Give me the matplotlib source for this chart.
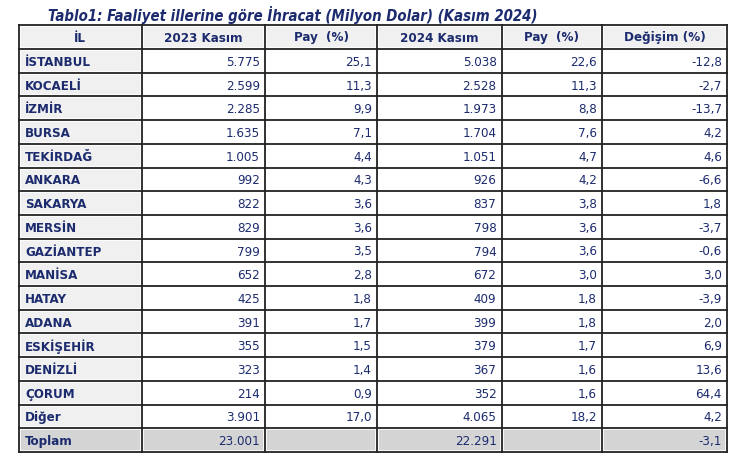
import matplotlib
matplotlib.use("Agg")
import matplotlib.pyplot as plt
from matplotlib.patches import Rectangle

title = "Tablo1: Faaliyet illerine göre İhracat (Milyon Dolar) (Kasım 2024)"
headers = ["İL", "2023 Kasım", "Pay  (%)", "2024 Kasım", "Pay  (%)", "Değişim (%)"]

iller = ["İSTANBUL", "KOCAELİ", "İZMİR", "BURSA", "TEKİRDAĞ", "ANKARA", "SAKARYA",
         "MERSİN", "GAZİANTEP", "MANİSA", "HATAY", "ADANA", "ESKİŞEHİR", "DENİZLİ",
         "ÇORUM", "Diğer", "Toplam"]
kasim_2023 = [5775, 2599, 2285, 1635, 1005, 992, 822, 829, 799, 652, 425, 391, 355,
              323, 214, 3901, 23001]
pay_2023 = [25.1, 11.3, 9.9, 7.1, 4.4, 4.3, 3.6, 3.6, 3.5, 2.8, 1.8, 1.7, 1.5, 1.4,
            0.9, 17.0, None]
kasim_2024 = [5038, 2528, 1973, 1704, 1051, 926, 837, 798, 794, 672, 409, 399, 379,
              367, 352, 4065, 22291]
pay_2024 = [22.6, 11.3, 8.8, 7.6, 4.7, 4.2, 3.8, 3.6, 3.6, 3.0, 1.8, 1.8, 1.7, 1.6,
            1.6, 18.2, None]
degisim = [-12.8, -2.7, -13.7, 4.2, 4.6, -6.6, 1.8, -3.7, -0.6, 3.0, -3.9, 2.0, 6.9,
           13.6, 64.4, 4.2, -3.1]


def fmt_int(v):
    return f"{v:,}".replace(",", ".")


def fmt_dec(v):
    if v is None:
        return ""
    return f"{v:.1f}".replace(".", ",")


plt.rcParams["font.stretch"] = "condensed"

navy = "#1c2b6e"
W, H = 747, 475
fig = plt.figure(figsize=(W / 100, H / 100), dpi=100)
ax = fig.add_axes([0, 0, 1, 1])
ax.set_xlim(0, W)
ax.set_ylim(H, 0)
ax.axis("off")

col_x = [19, 141.5, 265, 377, 501.5, 602, 727]
top = 25
head_h = 24
row_h = (452 - 49) / len(iller)

ax.text(48, 15, title, color=navy, fontsize=10.7, fontweight="bold",
        fontstyle="italic", va="center", ha="left")


def cell(x0, x1, y0, y1, fc):
    ax.add_patch(Rectangle((x0, y0), x1 - x0, y1 - y0, facecolor=fc,
                           edgecolor="white", lw=1.2, zorder=1))


# header row
for j, h in enumerate(headers):
    cell(col_x[j] + 1, col_x[j + 1] - 1, top + 1, top + head_h - 1, "#f0f0f0")
    ax.text((col_x[j] + col_x[j + 1]) / 2, top + head_h / 2 + 1, h, color=navy,
            fontsize=9.5, fontweight="bold", ha="center", va="center", zorder=3)

rows = list(zip(iller, kasim_2023, pay_2023, kasim_2024, pay_2024, degisim))
for i, r in enumerate(rows):
    y0 = top + head_h + i * row_h
    y1 = y0 + row_h
    yc = (y0 + y1) / 2 + 1.5
    total = i == len(rows) - 1
    vals = [r[0], fmt_int(r[1]), fmt_dec(r[2]), fmt_int(r[3]), fmt_dec(r[4]), fmt_dec(r[5])]
    for j, v in enumerate(vals):
        if total:
            fc = "#d4d4d4"
        elif j == 0:
            fc = "#f0f0f0"
        else:
            fc = "white"
        cell(col_x[j] + 1, col_x[j + 1] - 1, y0 + 1, y1 - 1, fc)
        if j == 0:
            ax.text(col_x[0] + 6, yc, v, color=navy, fontsize=9.5, fontweight="bold",
                    ha="left", va="center", zorder=3)
        else:
            ax.text(col_x[j + 1] - 5, yc, v, color=navy, fontsize=9.5,
                    ha="right", va="center", zorder=3)

# grid lines
bottom = top + head_h + len(rows) * row_h
for x in col_x:
    ax.plot([x, x], [top, bottom], color="#222222", lw=1.3, zorder=2,
            solid_capstyle="projecting")
for k in range(len(rows) + 2):
    y = top if k == 0 else top + head_h + (k - 1) * row_h
    ax.plot([col_x[0], col_x[-1]], [y, y], color="#222222", lw=1.3, zorder=2,
            solid_capstyle="projecting")

fig.savefig("out.png", dpi=100, facecolor="white")
